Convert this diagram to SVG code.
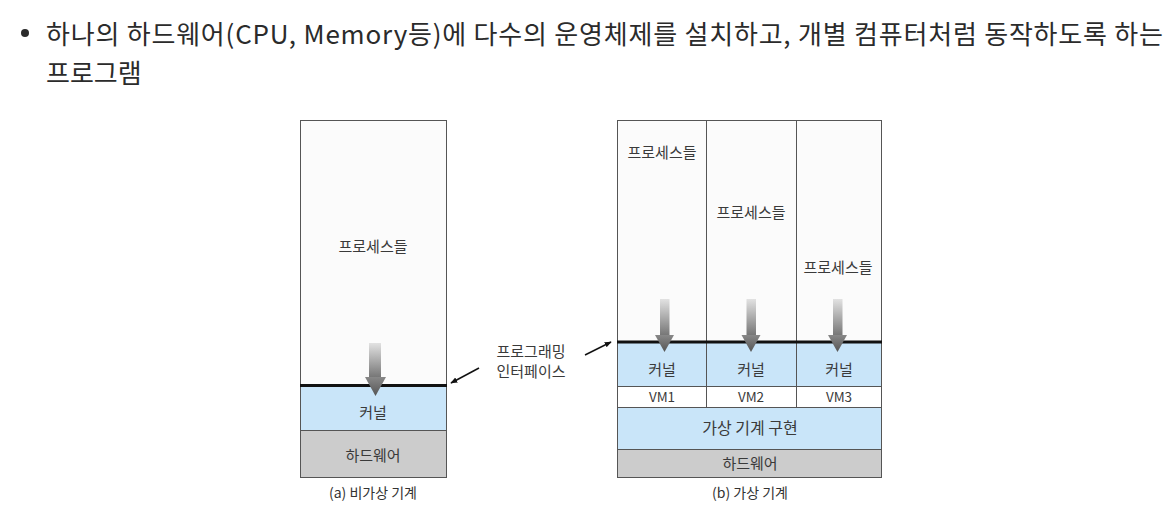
<svg xmlns="http://www.w3.org/2000/svg" width="1176" height="514" viewBox="0 0 1176 514">
<style>
.hdr{font-family:"Noto Sans CJK KR","Noto Sans",sans-serif;font-size:26px;fill:#2b2b2b}
.t{font-family:"Noto Sans CJK KR","Noto Sans",sans-serif;font-size:15px;fill:#3a3a3a;text-anchor:middle}
.cap{font-family:"Noto Sans CJK KR","Noto Sans",sans-serif;font-size:14px;fill:#333;text-anchor:middle}
.proc{fill:#fbfbfb;stroke:#555;stroke-width:1}
.kern{fill:#c9e5f9;stroke:#555;stroke-width:1}
.hw{fill:#cccccc;stroke:#555;stroke-width:1}
.vm{fill:#ffffff;stroke:#555;stroke-width:1}
.thick{stroke:#111;stroke-width:3}
.ptr{stroke:#111;stroke-width:1.5;fill:none}
</style>
<defs>
<linearGradient id="shaft" x1="0" y1="0" x2="0" y2="1">
<stop offset="0" stop-color="#e2e2e2"/>
<stop offset="1" stop-color="#777"/>
</linearGradient>
<linearGradient id="head" x1="0" y1="0" x2="0" y2="1">
<stop offset="0" stop-color="#888"/>
<stop offset="1" stop-color="#555"/>
</linearGradient>
<marker id="ah" viewBox="0 0 10 10" refX="9" refY="5" markerWidth="7" markerHeight="7" orient="auto-start-reverse" markerUnits="userSpaceOnUse">
<path d="M0,1 L10,5 L0,9 z" fill="#111"/>
</marker>
</defs>

<g id="header">
<circle cx="25" cy="33" r="4" fill="#2b2b2b"/>
<text class="hdr" x="46" y="44" textLength="1117" lengthAdjust="spacing">하나의 하드웨어(CPU, Memory등)에 다수의 운영체제를 설치하고, 개별 컴퓨터처럼 동작하도록 하는</text>
<text class="hdr" x="46" y="83">프로그램</text>
</g>

<g id="machine-a">
<rect class="proc" x="300.5" y="120.5" width="146" height="265"/>
<rect class="kern" x="300.5" y="385.5" width="146" height="45"/>
<rect class="hw" x="300.5" y="430.5" width="146" height="47"/>
<line class="thick" x1="300" y1="385.5" x2="447" y2="385.5"/>
<text class="t" x="373" y="252">프로세스들</text>
<text class="t" x="373" y="418">커널</text>
<text class="t" x="373" y="461">하드웨어</text>
<text class="cap" x="373" y="498">(a) 비가상 기계</text>
</g>

<g id="machine-b">
<rect class="proc" x="617.5" y="120.5" width="264" height="222"/>
<line x1="706.5" y1="120" x2="706.5" y2="342" stroke="#555"/>
<line x1="796.5" y1="120" x2="796.5" y2="342" stroke="#555"/>
<rect class="kern" x="617.5" y="342.5" width="89" height="44"/>
<rect class="kern" x="706.5" y="342.5" width="90" height="44"/>
<rect class="kern" x="796.5" y="342.5" width="85" height="44"/>
<rect class="vm" x="617.5" y="386.5" width="89" height="21"/>
<rect class="vm" x="706.5" y="386.5" width="90" height="21"/>
<rect class="vm" x="796.5" y="386.5" width="85" height="21"/>
<rect class="kern" x="617.5" y="407.5" width="264" height="42"/>
<rect class="hw" x="617.5" y="449.5" width="264" height="28"/>
<line class="thick" x1="617" y1="342" x2="882" y2="342"/>
<text class="t" x="662" y="158">프로세스들</text>
<text class="t" x="751" y="218">프로세스들</text>
<text class="t" x="838" y="273">프로세스들</text>
<text class="t" x="662" y="375">커널</text>
<text class="t" x="751" y="375">커널</text>
<text class="t" x="839" y="375">커널</text>
<text class="t" x="662" y="402" style="font-size:13.5px">VM1</text>
<text class="t" x="751" y="402" style="font-size:13.5px">VM2</text>
<text class="t" x="839" y="402" style="font-size:13.5px">VM3</text>
<text class="t" x="750" y="434" style="font-size:16px">가상 기계 구현</text>
<text class="t" x="750" y="469">하드웨어</text>
<text class="cap" x="750" y="498">(b) 가상 기계</text>
</g>

<g id="label">
<text class="t" x="531" y="357">프로그래밍</text>
<text class="t" x="531" y="377">인터페이스</text>
</g>

<g id="connectors">
<g id="flow-a">
<rect x="369" y="343" width="12" height="34" fill="url(#shaft)"/>
<path d="M365,377 L386,377 L375.5,396 z" fill="url(#head)"/>
</g>
<g id="flow-b1">
<rect x="660" y="299" width="9.5" height="36" fill="url(#shaft)"/>
<path d="M655,335 L674,335 L664.5,352 z" fill="url(#head)"/>
</g>
<g id="flow-b2">
<rect x="746.5" y="299" width="9.5" height="36" fill="url(#shaft)"/>
<path d="M741.5,335 L760.5,335 L751,352 z" fill="url(#head)"/>
</g>
<g id="flow-b3">
<rect x="833" y="299" width="9.5" height="36" fill="url(#shaft)"/>
<path d="M828,335 L847,335 L837.5,352 z" fill="url(#head)"/>
</g>
<line class="ptr" x1="479" y1="368" x2="451" y2="383" marker-end="url(#ah)"/>
<line class="ptr" x1="585" y1="355" x2="611" y2="342" marker-end="url(#ah)"/>
</g>
</svg>
